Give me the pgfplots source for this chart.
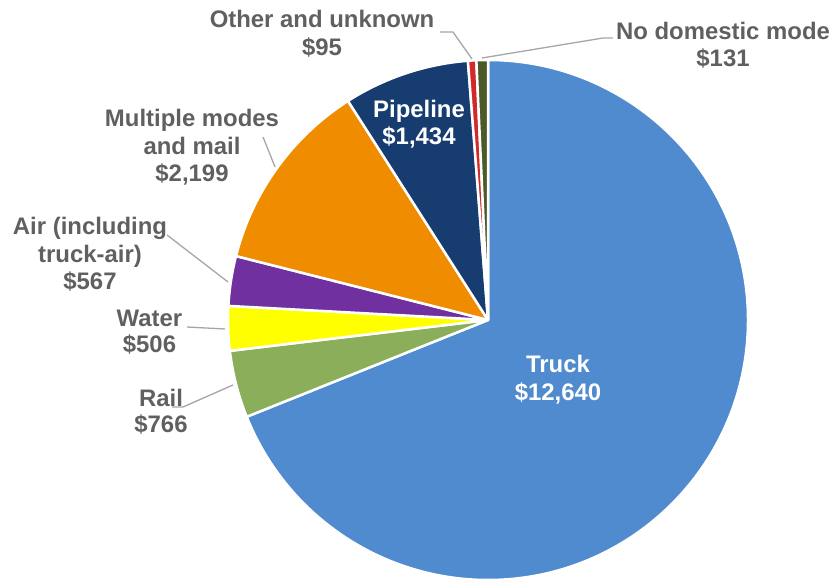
\documentclass[border=0pt]{standalone}
\usepackage{pgfplots}
\usepackage{pgfplotstable}
\pgfplotsset{compat=1.18}
\usepackage{fontspec}
\setmainfont{Liberation Sans}
\definecolor{ctruck}{HTML}{4F8BCE}
\definecolor{crail}{HTML}{8BAE5A}
\definecolor{cwater}{HTML}{FFFF00}
\definecolor{cair}{HTML}{70309F}
\definecolor{cmulti}{HTML}{F08C00}
\definecolor{cpipe}{HTML}{163C70}
\definecolor{cother}{HTML}{D22A2A}
\definecolor{cnodom}{HTML}{4B5A28}
\definecolor{lbl}{HTML}{606060}
\definecolor{leader}{HTML}{A6A6A6}
\pgfplotstableread[col sep=comma]{
name,value,col
Truck,12640,ctruck
Rail,766,crail
Water,506,cwater
Air,567,cair
Multiple,2199,cmulti
Pipeline,1434,cpipe
Other,95,cother
NoDomestic,131,cnodom
}\piedata
\begin{document}
\begin{tikzpicture}[
  lab/.style={anchor=base, text=lbl, font=\fontsize{24}{28}\selectfont\bfseries, inner sep=0pt},
  wlab/.style={anchor=base, text=white, font=\fontsize{24}{28}\selectfont\bfseries, inner sep=0pt},
  ld/.style={draw=leader, line width=1.3bp}]
\begin{axis}[width=835bp,height=581bp,scale only axis,
  xmin=0,xmax=835,ymin=0,ymax=581,hide axis,clip=false]
\addplot[draw=none] coordinates {(0,0) (835,581)};
\pgfplotsextra{
  \pgfplotstablegetrowsof{\piedata}\pgfmathtruncatemacro\lastrow{\pgfplotsretval-1}
  \gdef\pietotal{0}
  \foreach \i in {0,...,\lastrow}{%
    \pgfplotstablegetelem{\i}{value}\of\piedata
    \pgfmathsetmacro\tmpsum{\pietotal+\pgfplotsretval/1000}\xdef\pietotal{\tmpsum}}
  \gdef\curang{90}
  \foreach \i in {0,...,\lastrow}{%
    \pgfplotstablegetelem{\i}{value}\of\piedata \let\sliceval\pgfplotsretval
    \pgfplotstablegetelem{\i}{col}\of\piedata \let\slicecol\pgfplotsretval
    \pgfmathsetmacro\endang{\curang-360*(\sliceval/1000)/\pietotal}
    \fill[fill=\slicecol, draw=white, line width=2.5bp, line join=round]
      (axis cs:488,261) -- ++(\curang:260bp)
      arc[start angle=\curang,end angle=\endang,radius=260bp] -- cycle;
    \xdef\curang{\endang}
  }
  % leader lines (pixel coords, y flipped)
  \draw[ld] (axis cs:472,522) -- (axis cs:453,549) -- (axis cs:440,549);
  \draw[ld] (axis cs:482,523) -- (axis cs:603,543) -- (axis cs:613,543);
  \draw[ld] (axis cs:275,414) -- (axis cs:263,444);
  \draw[ld] (axis cs:228,299) -- (axis cs:167,346);
  \draw[ld] (axis cs:225,252) -- (axis cs:187,254);
  \draw[ld] (axis cs:233,196) -- (axis cs:183,174) -- (axis cs:172,174);
  % labels
  \node[lab] at (axis cs:322,553.5) {Other and unknown};
  \node[lab] at (axis cs:322,525.5) {\$95};
  \node[lab] at (axis cs:723,541) {No domestic mode};
  \node[lab] at (axis cs:723,514) {\$131};
  \node[lab] at (axis cs:192,454) {Multiple modes};
  \node[lab] at (axis cs:192,426) {and mail};
  \node[lab] at (axis cs:192,399) {\$2,199};
  \node[lab] at (axis cs:90,346) {Air (including};
  \node[lab] at (axis cs:90,318) {truck-air)};
  \node[lab] at (axis cs:90,291) {\$567};
  \node[lab] at (axis cs:149.5,254) {Water};
  \node[lab] at (axis cs:149.5,228) {\$506};
  \node[lab] at (axis cs:161,174) {Rail};
  \node[lab] at (axis cs:161,148) {\$766};
  \node[wlab] at (axis cs:419,463) {Pipeline};
  \node[wlab] at (axis cs:419,436) {\$1,434};
  \node[wlab] at (axis cs:558,208) {Truck};
  \node[wlab] at (axis cs:558,180) {\$12,640};
}
\end{axis}
\end{tikzpicture}
\end{document}
